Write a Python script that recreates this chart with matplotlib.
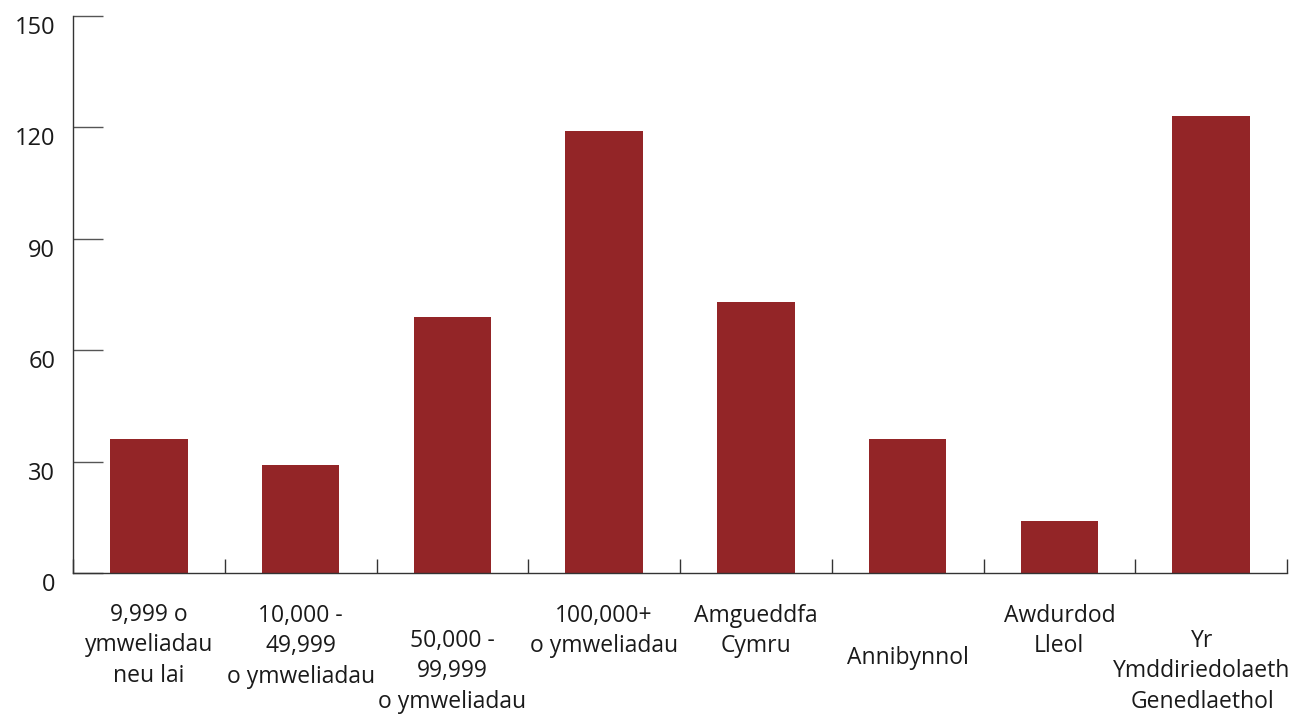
import matplotlib.pyplot as plt
import numpy as np

categories = [
    "9,999 o\nymweliadau\nneu lai",
    "10,000 -\n49,999\no ymweliadau",
    "50,000 -\n99,999\no ymweliadau",
    "100,000+\no ymweliadau",
    "Amgueddfa\nCymru",
    "Annibynnol",
    "Awdurdod\nLleol",
    "Yr\nYmddiriedolaeth\nGenedlaethol",
]
values = [36, 29, 69, 119, 73, 36, 14, 123]
yticks = [0, 30, 60, 90, 120, 150]

# label placement below the axis (pixels), as in the original
label_drop = [30, 31, 56, 31, 31, 73, 31, 56]
label_shift = [0, 0, 0, 0, 0, 0, 0, -9]

bar_color = '#932527'
axis_color = '#333333'

plt.rcParams['font.family'] = ['Open Sans', 'DejaVu Sans']

fig = plt.figure(figsize=(12.95, 7.17), dpi=100)
ax = fig.add_axes([73 / 1295, 1 - 573 / 717, (1287 - 73) / 1295, (573 - 16) / 717])

x = np.arange(len(values))
ax.bar(x, values, width=0.51, color=bar_color, zorder=2)

ax.set_xlim(-0.5, len(values) - 0.5)
ax.set_ylim(0, 150)

for side in ['top', 'right']:
    ax.spines[side].set_visible(False)
for side in ['left', 'bottom']:
    ax.spines[side].set_color(axis_color)
    ax.spines[side].set_linewidth(1)

ax.set_yticks(yticks)
ax.set_yticklabels([str(v) for v in yticks], fontsize=17, color='#1a1a1a')
ax.tick_params(axis='y', direction='in', length=21.6, width=1, color='#555555', pad=-2)
for lab in ax.get_yticklabels():
    lab.set_verticalalignment('top')
    lab.set_x(-0.017)

# category boundaries carry the x ticks
ax.set_xticks(np.arange(len(values) + 1) - 0.5)
ax.set_xticklabels([])
ax.tick_params(axis='x', direction='in', length=10, width=1, color=axis_color)

for i, name in enumerate(categories):
    ax.annotate(name, xy=(i, 0), xycoords=('data', 'axes fraction'),
                xytext=(label_shift[i], -label_drop[i]), textcoords='offset pixels',
                ha='center', va='top', fontsize=16.5, color='#1a1a1a',
                linespacing=1.35, annotation_clip=False)

fig.savefig('out.png', dpi=100)
